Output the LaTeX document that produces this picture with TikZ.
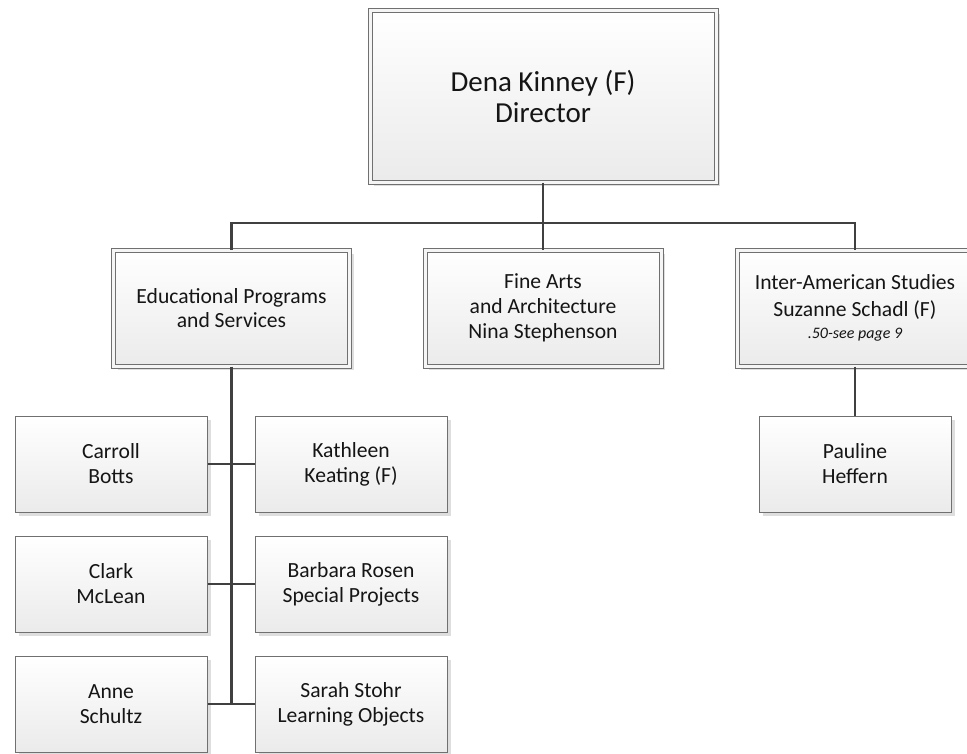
\documentclass[tikz,border=0pt]{standalone}
\usepackage{fontspec}
\setmainfont{Carlito}
\usetikzlibrary{shadows}
\definecolor{boxline}{HTML}{707070}
\definecolor{conn}{HTML}{404040}
\definecolor{shad}{HTML}{DEDEDE}
\definecolor{txt}{HTML}{151515}
\tikzset{
  orgbox/.style={rectangle, draw=boxline, line width=1pt, top color=white, bottom color=black!8,
    drop shadow={shadow xshift=4pt, shadow yshift=-4pt, fill=shad, opacity=1},
    align=center, text=txt, inner sep=2pt, font=\fontsize{21.6}{25}\selectfont},
  topbox/.style={orgbox, double=black!4, double distance=3pt, line width=1pt},
  smallbox/.style={orgbox, minimum width=192pt, minimum height=96pt},
  midbox/.style={topbox, minimum width=236pt, minimum height=116pt},
  link/.style={draw=conn, line width=2.6pt}
}
\begin{document}
\begin{tikzpicture}[x=1pt,y=-1pt]
\clip (0,0) rectangle (967,753);
\fill[white] (0,0) rectangle (967,753);
% nodes
\node[topbox, minimum width=346pt, minimum height=172pt, font=\fontsize{29}{31}\selectfont] (dir) at (543,96) {Dena Kinney (F)\\Director};
\node[midbox, font=\fontsize{21.6}{24}\selectfont] (edu) at (231.5,308) {Educational Programs\\and Services};
\node[midbox] (fine) at (543,308) {Fine Arts\\and Architecture\\Nina Stephenson};
\node[midbox] (ia) at (855,308) {Inter-American Studies\\[2pt]Suzanne Schadl (F)\\[-3pt]{\fontsize{16}{20}\selectfont\itshape .50-see page 9}};
\node[smallbox] (paul) at (855,464) {Pauline\\Heffern};
\node[smallbox] (carroll) at (111,464) {Carroll\\Botts};
\node[smallbox] (kath) at (351,464) {Kathleen\\Keating (F)};
\node[smallbox] (clark) at (111,584) {Clark\\McLean};
\node[smallbox] (barb) at (351,584) {Barbara Rosen\\Special Projects};
\node[smallbox] (anne) at (111,704) {Anne\\Schultz};
\node[smallbox] (sarah) at (351,704) {Sarah Stohr\\Learning Objects};
% connectors
\coordinate (bus) at (543,223);
\coordinate (eduend) at (231.5,704);
\draw[link] (dir.south) -- (bus);
\draw[link] (edu.north) |- (bus) -| (ia.north);
\draw[link] (bus) -- (fine.north);
\draw[link] (ia.south) -- (paul.north);
\draw[link] (edu.south) -- (eduend);
\draw[link] (carroll.east) -- (kath.west);
\draw[link] (clark.east) -- (barb.west);
\draw[link] (anne.east) -- (sarah.west);
\end{tikzpicture}
\end{document}
